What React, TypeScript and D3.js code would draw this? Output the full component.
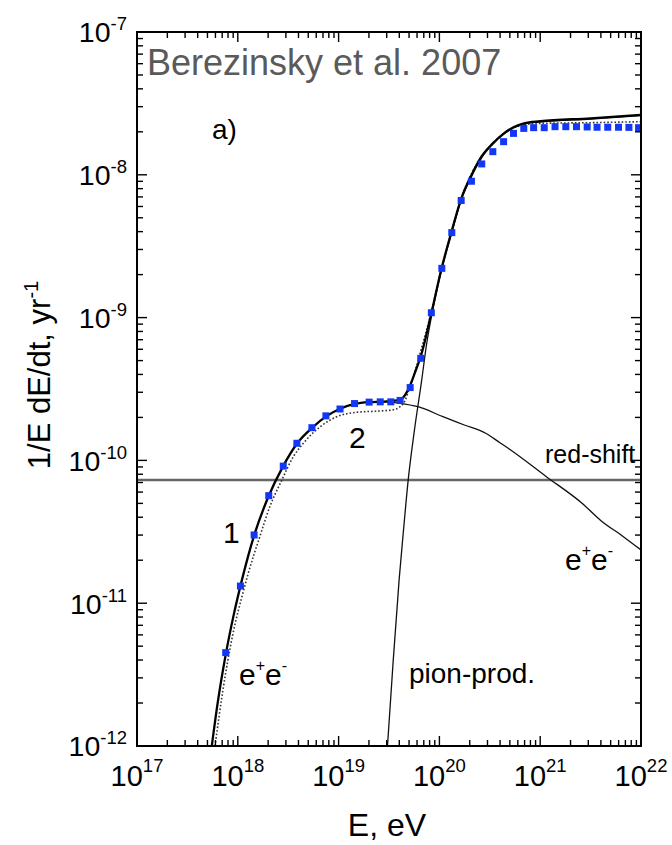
import React from 'react';
import * as d3 from 'd3';

// all values are log10(E / eV) and log10(1/E dE/dt / yr^-1)
const energyDomain = [1e17, 1e22];
const rateDomain = [1e-12, 1e-7];
const xDecades = [17, 18, 19, 20, 21, 22];
const yDecades = [-12, -11, -10, -9, -8, -7];

// curve 1 (total, thick solid)
const curveTotal = [
  [17.742, -12], [17.8, -11.7], [17.88, -11.36], [17.96, -11.08], [18.04, -10.84],
  [18.16, -10.53], [18.3, -10.26], [18.45, -10.04], [18.59, -9.88], [18.74, -9.77],
  [18.88, -9.69], [19.01, -9.64], [19.16, -9.605], [19.3, -9.592], [19.45, -9.588],
  [19.58, -9.58], [19.64, -9.56], [19.7, -9.49], [19.76, -9.38], [19.82, -9.26],
  [19.92, -8.97], [20.02, -8.66], [20.12, -8.4], [20.22, -8.16], [20.32, -8.0],
  [20.42, -7.87], [20.53, -7.78], [20.64, -7.71], [20.74, -7.665], [20.84, -7.64],
  [21.0, -7.625], [21.5, -7.605], [22.0, -7.58],
];

// curve 2 (dotted)
const curveDotted = [
  [17.774, -12], [17.85, -11.62], [17.95, -11.22], [18.05, -10.93], [18.1, -10.8],
  [18.22, -10.53], [18.32, -10.32], [18.435, -10.14], [18.55, -9.975], [18.65, -9.88],
  [18.815, -9.765], [18.98, -9.695], [19.18, -9.663], [19.41, -9.654], [19.53, -9.647],
  [19.61, -9.624], [19.66, -9.58], [19.7, -9.5], [19.76, -9.37], [19.82, -9.22],
  [19.92, -8.96], [20.02, -8.66], [20.12, -8.4], [20.22, -8.16], [20.32, -7.99],
  [20.42, -7.87], [20.53, -7.78], [20.64, -7.71], [20.74, -7.67], [20.84, -7.65],
  [21.0, -7.64], [21.5, -7.635], [22.0, -7.628],
];

// e+e- pair production (thin)
const curvePair = [
  [19.3, -9.592], [19.45, -9.59], [19.609, -9.6], [19.787, -9.624], [20.035, -9.694],
  [20.247, -9.752], [20.459, -9.81], [20.6, -9.876], [20.707, -9.927], [21.061, -10.114],
  [21.415, -10.3], [21.6, -10.42], [21.825, -10.534], [22.0, -10.627],
];

// pion production (thin)
const curvePion = [
  [19.485, -12], [19.54, -11.42], [19.6, -10.84], [19.645, -10.48], [19.69, -10.14],
  [19.75, -9.8], [19.824, -9.44], [19.87, -9.2], [19.93, -8.96], [20.02, -8.67],
  [20.12, -8.41], [20.22, -8.17], [20.32, -8.01], [20.42, -7.88], [20.53, -7.785],
  [20.64, -7.715], [20.74, -7.67], [20.84, -7.645], [21.0, -7.63], [21.5, -7.61],
  [22.0, -7.585],
];

// blue squares
const squares = [
  [17.88, -11.346], [18.026, -10.88], [18.162, -10.522], [18.307, -10.247], [18.451, -10.04],
  [18.586, -9.88], [18.735, -9.771], [18.874, -9.688], [19.014, -9.64], [19.158, -9.602],
  [19.303, -9.592], [19.413, -9.59], [19.518, -9.59], [19.61, -9.58], [19.71, -9.49],
  [19.815, -9.285], [19.92, -8.966], [20.024, -8.655], [20.123, -8.405], [20.216, -8.18],
  [20.318, -8.045], [20.42, -7.924], [20.53, -7.838], [20.637, -7.768], [20.735, -7.71],
  [20.837, -7.675], [20.935, -7.67], [21.04, -7.67], [21.147, -7.663], [21.254, -7.663],
  [21.36, -7.663], [21.466, -7.665], [21.564, -7.667], [21.67, -7.667], [21.777, -7.667],
  [21.88, -7.668], [21.976, -7.67],
];

const redShift = -10.137;

const font = 'Liberation Sans, Arial, Helvetica, sans-serif';

function isMajor(v: number) {
  const l = Math.log10(v);
  return Math.abs(l - Math.round(l)) < 1e-6;
}

export default function App() {
  const left = 137, right = 641, top = 32, bottom = 746;
  const x = d3.scaleLog().domain(energyDomain).range([left, right]);
  const y = d3.scaleLog().domain(rateDomain).range([bottom, top]);

  const line = d3.line<number[]>()
    .x(d => x(Math.pow(10, d[0])))
    .y(d => y(Math.pow(10, d[1])))
    .curve(d3.curveMonotoneX);

  const xt = x.ticks();
  const yt = y.ticks();
  const tl = (v: number) => (isMajor(v) ? 10 : 6);

  return (
    <svg width={672} height={845} style={{ position: 'absolute', left: 0, top: 0, background: '#fff' }}
      fontFamily={font}>
      <defs>
        <clipPath id="plot">
          <rect x={left} y={top} width={right - left} height={bottom - top} />
        </clipPath>
      </defs>

      <g clipPath="url(#plot)" fill="none">
        <line x1={left} x2={right} y1={y(Math.pow(10, redShift))} y2={y(Math.pow(10, redShift))}
          stroke="#666" strokeWidth={2.4} />
        <path d={line(curvePair) || ''} stroke="#111" strokeWidth={1.3} />
        <path d={line(curvePion) || ''} stroke="#111" strokeWidth={1.3} />
        <path d={line(curveDotted) || ''} stroke="#333" strokeWidth={1.6} strokeDasharray="1.6 2" />
        <path d={line(curveTotal) || ''} stroke="#000" strokeWidth={2.3} />
        {squares.map((d, i) => (
          <rect key={i} x={x(Math.pow(10, d[0])) - 3.5} y={y(Math.pow(10, d[1])) - 3.5}
            width={7} height={7} fill="#1238f5" />
        ))}
      </g>

      {/* ticks on all four sides, pointing inward */}
      <g stroke="#000" strokeWidth={1.4}>
        {xt.map((v, i) => (
          <g key={'x' + i}>
            <line x1={x(v)} x2={x(v)} y1={bottom} y2={bottom - tl(v)} />
            <line x1={x(v)} x2={x(v)} y1={top} y2={top + tl(v)} />
          </g>
        ))}
        {yt.map((v, i) => (
          <g key={'y' + i}>
            <line y1={y(v)} y2={y(v)} x1={left} x2={left + tl(v)} />
            <line y1={y(v)} y2={y(v)} x1={right} x2={right - tl(v)} />
          </g>
        ))}
      </g>
      <rect x={left} y={top} width={right - left} height={bottom - top} fill="none" stroke="#000" strokeWidth={2} />

      {xDecades.map(e => (
        <text key={'xl' + e} x={x(Math.pow(10, e))} y={786} textAnchor="middle" fontSize={29}>
          10<tspan dy={-14} fontSize={18.5}>{e}</tspan>
        </text>
      ))}
      {yDecades.map(e => (
        <text key={'yl' + e} x={127} y={y(Math.pow(10, e)) + 10.4} textAnchor="end" fontSize={28.5}>
          10<tspan dy={-12} fontSize={18.5}>{e}</tspan>
        </text>
      ))}

      <text x={387} y={836} textAnchor="middle" fontSize={32}>E, eV</text>
      <text transform="translate(50,375) rotate(-90)" textAnchor="middle" fontSize={31}>
        1/E dE/dt, yr<tspan dy={-12} fontSize={20}>-1</tspan>
      </text>

      <text x={147} y={75} fontSize={36} fill="#5a5a5a">Berezinsky et al. 2007</text>
      <text x={212} y={139} fontSize={28}>a)</text>
      <text x={349} y={448} fontSize={30}>2</text>
      <text x={223} y={543} fontSize={30}>1</text>
      <text x={545} y={463} fontSize={25}>red-shift</text>
      <text x={565} y={570} fontSize={30}>
        e<tspan dy={-14} fontSize={16}>+</tspan><tspan dy={14}>e</tspan><tspan dy={-14} fontSize={16}>-</tspan>
      </text>
      <text x={239} y={685} fontSize={30}>
        e<tspan dy={-14} fontSize={16}>+</tspan><tspan dy={14}>e</tspan><tspan dy={-14} fontSize={16}>-</tspan>
      </text>
      <text x={409} y={683} fontSize={28}>pion-prod.</text>
    </svg>
  );
}
